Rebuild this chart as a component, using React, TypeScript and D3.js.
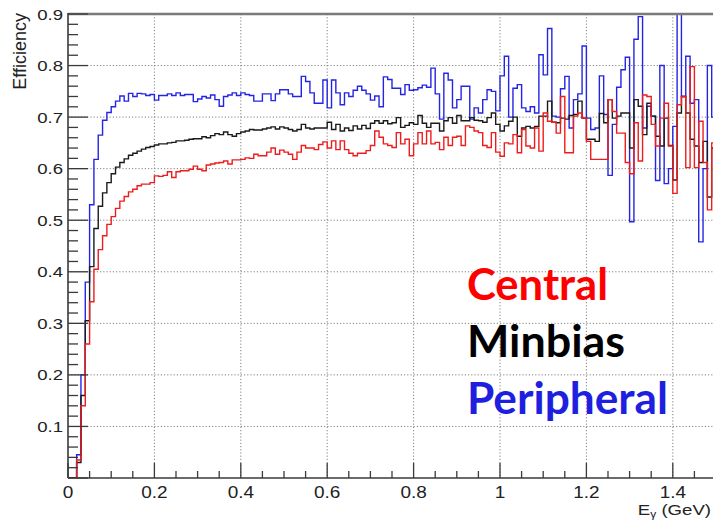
import React from "react";
import * as d3 from "d3";

const BIN_WIDTH = 0.01;

const peripheral = [
  0, 0, 0.045, 0.2, 0.38, 0.53, 0.618, 0.665, 0.694, 0.709,
  0.72, 0.731, 0.741, 0.731, 0.746, 0.74, 0.746, 0.745, 0.742, 0.744,
  0.733, 0.742, 0.742, 0.745, 0.742, 0.747, 0.742, 0.744, 0.744, 0.73,
  0.735, 0.74, 0.737, 0.743, 0.734, 0.721, 0.74, 0.743, 0.747, 0.742,
  0.747, 0.744, 0.742, 0.731, 0.731, 0.745, 0.745, 0.732, 0.745, 0.753,
  0.753, 0.745, 0.74, 0.74, 0.779, 0.769, 0.747, 0.727, 0.727, 0.772,
  0.718, 0.772, 0.747, 0.724, 0.747, 0.74, 0.752, 0.76, 0.752, 0.745,
  0.733, 0.741, 0.72, 0.778, 0.773, 0.756, 0.756, 0.744, 0.763, 0.752,
  0.753, 0.757, 0.762, 0.758, 0.795, 0.745, 0.696, 0.785, 0.772, 0.718,
  0.734, 0.76, 0.76, 0.696, 0.718, 0.708, 0.734, 0.753, 0.75, 0.712,
  0.78, 0.818, 0.7, 0.756, 0.763, 0.718, 0.711, 0.72, 0.708, 0.821,
  0.782, 0.872, 0.702, 0.7, 0.755, 0.779, 0.679, 0.734, 0.745, 0.838,
  0.698, 0.676, 0.679, 0.78, 0.705, 0.587, 0.686, 0.758, 0.792, 0.816,
  0.497, 0.851, 0.895, 0.679, 0.721, 0.702, 0.577, 0.8, 0.571, 0.6,
  0.682, 0.95, 0.74, 0.818, 0.727, 0.734, 0.458, 0.6, 0.8, 0.7,
];

const minbias = [
  0, 0, 0.03, 0.16, 0.305, 0.41, 0.484, 0.527, 0.553, 0.573,
  0.59, 0.603, 0.612, 0.619, 0.626, 0.63, 0.634, 0.638, 0.641, 0.643,
  0.646, 0.648, 0.648, 0.65, 0.651, 0.654, 0.654, 0.655, 0.657, 0.658,
  0.658, 0.662, 0.66, 0.664, 0.668, 0.666, 0.671, 0.666, 0.663, 0.668,
  0.671, 0.673, 0.676, 0.675, 0.675, 0.677, 0.679, 0.681, 0.677, 0.681,
  0.679, 0.676, 0.673, 0.676, 0.686, 0.679, 0.677, 0.679, 0.679, 0.679,
  0.69, 0.676, 0.686, 0.673, 0.679, 0.674, 0.683, 0.677, 0.684, 0.678,
  0.688, 0.693, 0.688, 0.693, 0.687, 0.689, 0.699, 0.68, 0.684, 0.689,
  0.686, 0.703, 0.688, 0.68, 0.688, 0.688, 0.673, 0.693, 0.699, 0.688,
  0.703, 0.693, 0.693, 0.699, 0.694, 0.693, 0.69, 0.699, 0.708, 0.686,
  0.673, 0.683, 0.692, 0.7, 0.663, 0.679, 0.682, 0.679, 0.682, 0.702,
  0.702, 0.731, 0.69, 0.689, 0.698, 0.696, 0.703, 0.705, 0.731, 0.698,
  0.657, 0.657, 0.653, 0.707, 0.689, 0.734, 0.698, 0.702, 0.708, 0.708,
  0.64, 0.734, 0.721, 0.666, 0.727, 0.702, 0.663, 0.644, 0.698, 0.645,
  0.578, 0.708, 0.74, 0.708, 0.657, 0.644, 0.612, 0.653, 0.545, 0.64,
];

const central = [
  0, 0, 0.035, 0.14, 0.26, 0.342, 0.405, 0.443, 0.47, 0.492,
  0.507, 0.523, 0.537, 0.546, 0.555, 0.56, 0.567, 0.57, 0.57, 0.573,
  0.586, 0.585, 0.587, 0.594, 0.583, 0.594, 0.596, 0.596, 0.599, 0.605,
  0.599, 0.596, 0.607, 0.609, 0.611, 0.612, 0.615, 0.609, 0.617, 0.617,
  0.618, 0.621, 0.62, 0.628, 0.625, 0.625, 0.632, 0.64, 0.628, 0.636,
  0.632, 0.628, 0.618, 0.632, 0.645, 0.64, 0.64, 0.637, 0.647, 0.652,
  0.64, 0.654, 0.637, 0.654, 0.637, 0.63, 0.625, 0.63, 0.63, 0.635,
  0.645, 0.673, 0.661, 0.648, 0.645, 0.641, 0.67, 0.648, 0.657, 0.625,
  0.648, 0.67, 0.648, 0.673, 0.648, 0.651, 0.637, 0.661, 0.645, 0.661,
  0.663, 0.645, 0.683, 0.68, 0.673, 0.67, 0.645, 0.641, 0.67, 0.632,
  0.624, 0.65, 0.648, 0.666, 0.631, 0.676, 0.644, 0.64, 0.679, 0.634,
  0.708, 0.692, 0.69, 0.669, 0.74, 0.631, 0.631, 0.702, 0.708, 0.698,
  0.653, 0.618, 0.618, 0.618, 0.618, 0.734, 0.711, 0.669, 0.669, 0.612,
  0.59, 0.689, 0.615, 0.743, 0.74, 0.686, 0.644, 0.698, 0.727, 0.644,
  0.552, 0.724, 0.74, 0.602, 0.798, 0.602, 0.692, 0.612, 0.52, 0.65,
];

const xTickValues = [0, 0.2, 0.4, 0.6, 0.8, 1.0, 1.2, 1.4];
const xTickLabels = ["0", "0.2", "0.4", "0.6", "0.8", "1", "1.2", "1.4"];
const yTickValues = [0.1, 0.2, 0.3, 0.4, 0.5, 0.6, 0.7, 0.8, 0.9];
const yTickLabels = ["0.1", "0.2", "0.3", "0.4", "0.5", "0.6", "0.7", "0.8", "0.9"];

const legendNames = ["Central", "Minbias", "Peripheral"];
const legendColors = ["#ff0000", "#000000", "#1f1fe0"];
const lineColors = ["#ee1c1c", "#1a1a1a", "#2424e6"];

const W = 713;
const H = 523;
const left = 68;
const right = 716;
const top = 14;
const bottom = 478;

export default function App() {
  const x = d3.scaleLinear().domain([0, 1.5]).range([left, right]);
  const y = d3.scaleLinear().domain([0, 0.9]).range([bottom, top]);

  const toPts = (vals: number[]) => {
    const pts: [number, number][] = vals.map((v, i) => [i * BIN_WIDTH, v]);
    pts.push([vals.length * BIN_WIDTH, vals[vals.length - 1]]);
    return pts;
  };
  const line = d3
    .line<[number, number]>()
    .x((d) => x(d[0]))
    .y((d) => y(d[1]))
    .curve(d3.curveStepAfter);

  const series = [peripheral, minbias, central];
  const seriesColors = [lineColors[2], lineColors[1], lineColors[0]];

  const yMinor = d3.range(0, 0.9001, 0.02);
  const xMinor = d3.range(0, 1.5001, 0.05);

  const axisColor = "#3a3a3a";
  const gridColor = "#808080";
  const legendBase = [300, 357, 414];
  const legendWidths = [141, 158, 201];

  return (
    <svg
      width={W}
      height={H}
      style={{ position: "absolute", left: 0, top: 0, background: "#fff" }}
    >
      <rect x={0} y={0} width={W} height={H} fill="#fff" />
      <defs>
        <clipPath id="plotclip">
          <rect x={left} y={top} width={right - left} height={bottom - top} />
        </clipPath>
      </defs>

      {/* grid */}
      {xTickValues
        .filter((v) => v > 0)
        .map((v, i) => (
          <line
            key={"gx" + i}
            x1={x(v)}
            x2={x(v)}
            y1={top}
            y2={bottom}
            stroke={gridColor}
            strokeWidth={1}
            strokeDasharray="1.2,2"
          />
        ))}
      {yTickValues
        .filter((v) => v < 0.9)
        .map((v, i) => (
          <line
            key={"gy" + i}
            x1={left}
            x2={right}
            y1={y(v)}
            y2={y(v)}
            stroke={gridColor}
            strokeWidth={1}
            strokeDasharray="1.2,2"
          />
        ))}

      {/* histograms */}
      <g clipPath="url(#plotclip)">
        {series.map((s, i) => (
          <path
            key={"s" + i}
            d={line(toPts(s)) || ""}
            fill="none"
            stroke={seriesColors[i]}
            strokeWidth={1.4}
          />
        ))}
      </g>

      {/* frame */}
      <line x1={left} x2={right} y1={top} y2={top} stroke="#7a7a7a" strokeWidth={2.4} />
      <line x1={left} x2={left} y1={top - 1} y2={bottom} stroke={axisColor} strokeWidth={1.6} />
      <line x1={left} x2={right} y1={bottom} y2={bottom} stroke={axisColor} strokeWidth={1.6} />

      {/* y ticks */}
      {yMinor.map((v, i) => {
        const major = Math.abs(v * 10 - Math.round(v * 10)) < 1e-6;
        return (
          <line
            key={"yt" + i}
            x1={left}
            x2={left + (major ? 20 : 10)}
            y1={y(v)}
            y2={y(v)}
            stroke={axisColor}
            strokeWidth={1.3}
          />
        );
      })}
      {/* x ticks */}
      {xMinor.map((v, i) => {
        const major = Math.abs(v * 5 - Math.round(v * 5)) < 1e-6;
        return (
          <line
            key={"xt" + i}
            x1={x(v)}
            x2={x(v)}
            y1={bottom}
            y2={bottom - (major ? 15 : 7)}
            stroke={axisColor}
            strokeWidth={1.3}
          />
        );
      })}

      {/* y labels */}
      {yTickValues.map((v, i) => (
        <text
          key={"yl" + i}
          transform={`translate(63,${y(v) + 5.5}) scale(1.2,1)`}
          textAnchor="end"
          fontFamily="Liberation Sans, Arial, sans-serif"
          fontSize={15.5}
          fill="#222"
        >
          {yTickLabels[i]}
        </text>
      ))}
      {/* x labels */}
      {xTickValues.map((v, i) => (
        <text
          key={"xl" + i}
          transform={`translate(${x(v)},498) scale(1.15,1)`}
          textAnchor="middle"
          fontFamily="Liberation Sans, Arial, sans-serif"
          fontSize={16.5}
          fill="#222"
        >
          {xTickLabels[i]}
        </text>
      ))}

      {/* axis titles */}
      <text
        transform="translate(26,13) rotate(-90)"
        textAnchor="end"
        fontFamily="Liberation Sans, Arial, sans-serif"
        fontSize={18}
        fill="#222"
      >
        Efficiency
      </text>
      <text
        transform="translate(711,515) scale(1.2,1)"
        textAnchor="end"
        fontFamily="Liberation Sans, Arial, sans-serif"
        fontSize={15.5}
        fill="#222"
      >
        E
        <tspan fontSize={10} dy={3}>γ</tspan>
        <tspan dy={-3}> (GeV)</tspan>
      </text>

      {/* legend */}
      {legendNames.map((name, i) => (
        <text
          key={"lg" + i}
          x={467}
          y={legendBase[i]}
          fontFamily="Lato, Open Sans, sans-serif"
          fontWeight="bold"
          fontSize={44}
          fill={legendColors[i]}
          textLength={legendWidths[i]}
          lengthAdjust="spacingAndGlyphs"
        >
          {name}
        </text>
      ))}
    </svg>
  );
}
